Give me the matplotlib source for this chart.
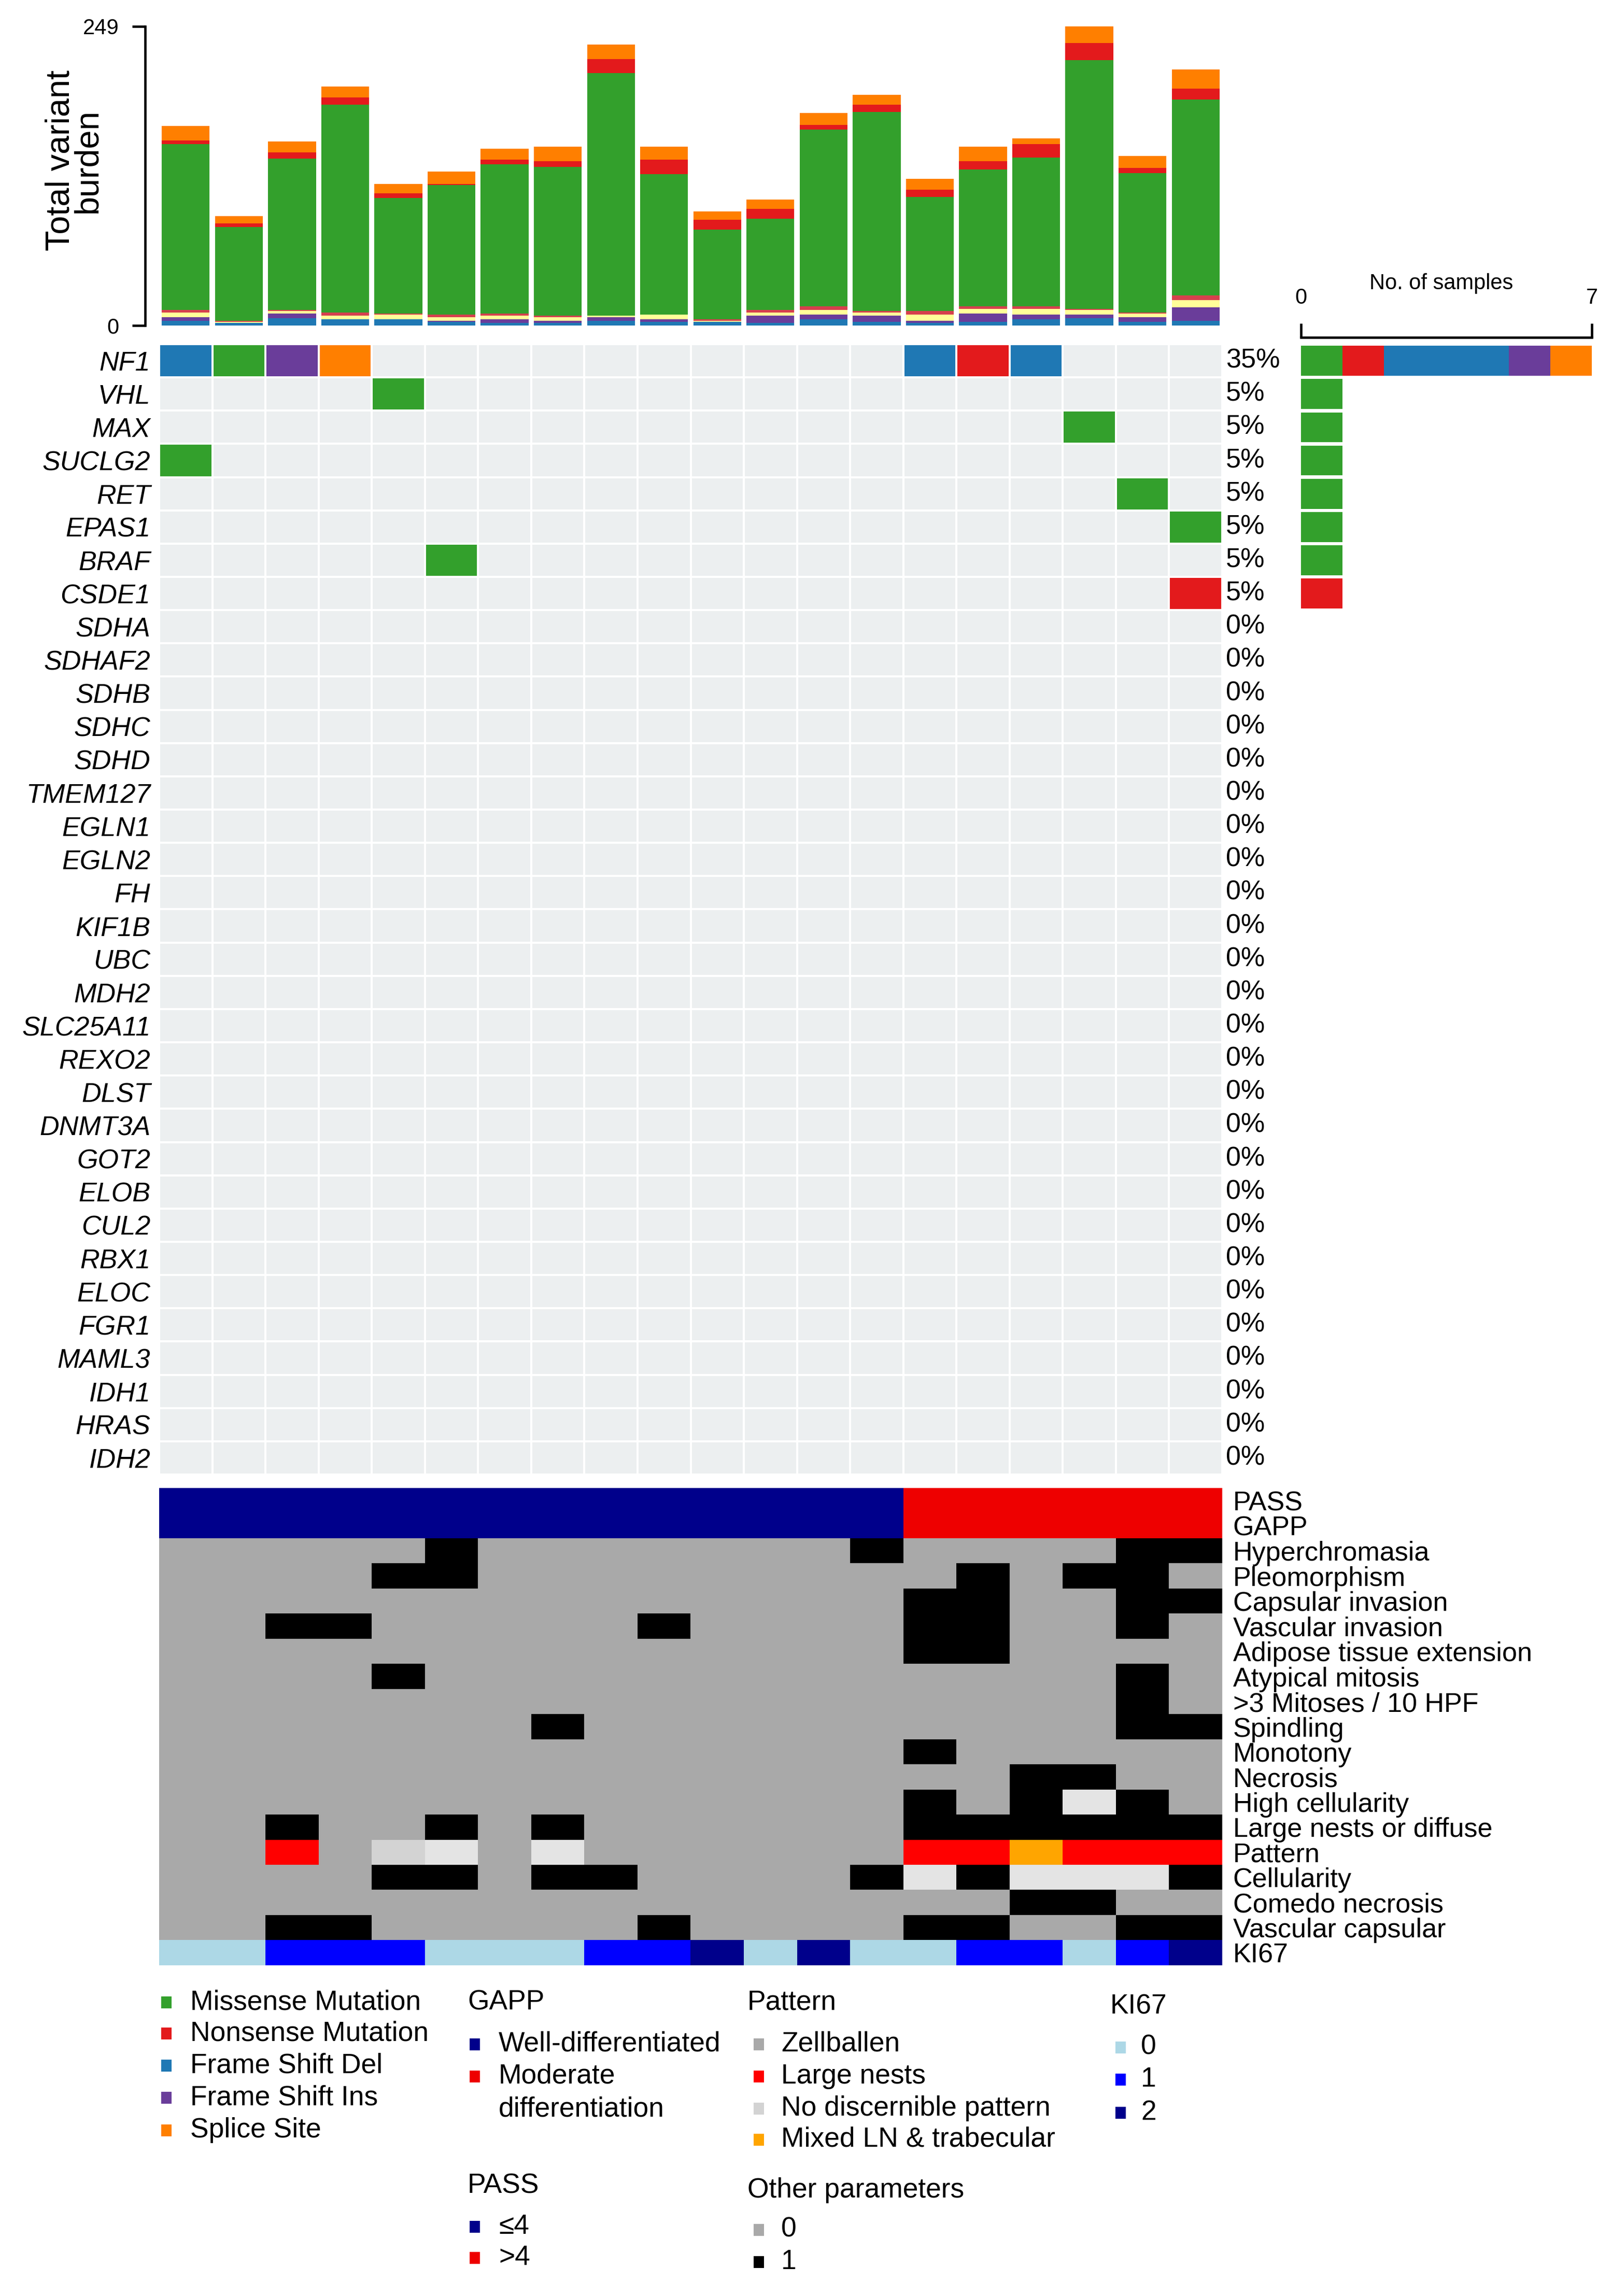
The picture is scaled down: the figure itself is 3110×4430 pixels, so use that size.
import numpy as np
import matplotlib
matplotlib.use("Agg")
import matplotlib.pyplot as plt
from matplotlib.colors import ListedColormap, to_rgb
from matplotlib.patches import Rectangle

plt.rcParams['font.family'] = ['Liberation Sans', 'DejaVu Sans']

W, H, DPI = 3110, 4430, 300
n_samples = 20

# --- total variant burden per sample (stacked, bottom -> top) ---
fsd_burden = [4, 2, 6, 5, 5, 3, 2, 2, 4, 3, 3, 2, 5, 3, 2, 3, 5, 6, 3, 4]
fsi_burden = [3, 0, 4, 0, 0, 1, 3, 2, 3, 2, 0, 6, 4, 5, 2, 7, 4, 3, 4, 11]
ifd_burden = [4, 1, 2, 3, 4, 3, 3, 3, 1, 4, 1, 3, 4, 3, 5, 4, 5, 4, 3, 6]
other_burden = [2, 1, 1, 3, 1, 2, 2, 1, 0, 0, 1, 2, 3, 1, 3, 2, 2, 1, 1, 4]
missense_burden = [138, 78, 126, 173, 96, 108, 124, 124, 202, 117,
                   75, 76, 147, 166, 95, 114, 124, 207, 116, 163]
nonsense_burden = [3, 3, 5, 6, 4, 1, 4, 5, 12, 12, 8, 8, 4, 6, 6, 7, 11, 14, 4, 9]
splice_burden = [12, 6, 9, 9, 8, 10, 9, 12, 12, 11, 7, 8, 10, 8, 9, 12, 5, 14, 10, 16]

# --- oncoplot genes and mutation calls ---
genes = ["NF1", "VHL", "MAX", "SUCLG2", "RET", "EPAS1", "BRAF", "CSDE1", "SDHA",
         "SDHAF2", "SDHB", "SDHC", "SDHD", "TMEM127", "EGLN1", "EGLN2", "FH",
         "KIF1B", "UBC", "MDH2", "SLC25A11", "REXO2", "DLST", "DNMT3A", "GOT2",
         "ELOB", "CUL2", "RBX1", "ELOC", "FGR1", "MAML3", "IDH1", "HRAS", "IDH2"]
mut_gene = ["NF1", "NF1", "NF1", "NF1", "NF1", "NF1", "NF1",
            "VHL", "MAX", "SUCLG2", "RET", "EPAS1", "BRAF", "CSDE1"]
mut_sample = [0, 1, 2, 3, 14, 15, 16, 4, 17, 0, 18, 19, 5, 19]
mut_type = ["Frame Shift Del", "Missense Mutation", "Frame Shift Ins", "Splice Site",
            "Frame Shift Del", "Nonsense Mutation", "Frame Shift Del",
            "Missense Mutation", "Missense Mutation", "Missense Mutation",
            "Missense Mutation", "Missense Mutation", "Missense Mutation",
            "Nonsense Mutation"]

mut_types = ["Missense Mutation", "Nonsense Mutation", "Frame Shift Del",
             "Frame Shift Ins", "Splice Site"]
mut_colors = ["#33A02C", "#E31A1C", "#1F78B4", "#6A3D9A", "#FF7F00"]

# --- clinical / histology annotation ---
ann_rows = ["PASS", "GAPP", "Hyperchromasia", "Pleomorphism", "Capsular invasion",
            "Vascular invasion", "Adipose tissue extension", "Atypical mitosis",
            ">3 Mitoses / 10 HPF", "Spindling", "Monotony", "Necrosis",
            "High cellularity", "Large nests or diffuse", "Pattern", "Cellularity",
            "Comedo necrosis", "Vascular capsular", "KI67"]
pass_vals = ["≤4"] * 14 + [">4"] * 6
gapp_vals = ["Well-differentiated"] * 14 + ["Moderate differentiation"] * 6
hyperchromasia = [0, 0, 0, 0, 0, 1, 0, 0, 0, 0, 0, 0, 0, 1, 0, 0, 0, 0, 1, 1]
pleomorphism = [0, 0, 0, 0, 1, 1, 0, 0, 0, 0, 0, 0, 0, 0, 0, 1, 0, 1, 1, 0]
capsular_inv = [0, 0, 0, 0, 0, 0, 0, 0, 0, 0, 0, 0, 0, 0, 1, 1, 0, 0, 1, 1]
vascular_inv = [0, 0, 1, 1, 0, 0, 0, 0, 0, 1, 0, 0, 0, 0, 1, 1, 0, 0, 1, 0]
adipose_ext = [0, 0, 0, 0, 0, 0, 0, 0, 0, 0, 0, 0, 0, 0, 1, 1, 0, 0, 0, 0]
atypical_mit = [0, 0, 0, 0, 1, 0, 0, 0, 0, 0, 0, 0, 0, 0, 0, 0, 0, 0, 1, 0]
mitoses_3 = [0, 0, 0, 0, 0, 0, 0, 0, 0, 0, 0, 0, 0, 0, 0, 0, 0, 0, 1, 0]
spindling = [0, 0, 0, 0, 0, 0, 0, 1, 0, 0, 0, 0, 0, 0, 0, 0, 0, 0, 1, 1]
monotony = [0, 0, 0, 0, 0, 0, 0, 0, 0, 0, 0, 0, 0, 0, 1, 0, 0, 0, 0, 0]
necrosis = [0, 0, 0, 0, 0, 0, 0, 0, 0, 0, 0, 0, 0, 0, 0, 0, 1, 1, 0, 0]
high_cell = [0, 0, 0, 0, 0, 0, 0, 0, 0, 0, 0, 0, 0, 0, 1, 0, 1, None, 1, 0]
large_nests = [0, 0, 1, 0, 0, 1, 0, 1, 0, 0, 0, 0, 0, 0, 1, 1, 1, 1, 1, 1]
pattern_vals = ["Zellballen", "Zellballen", "Large nests", "Zellballen",
                "No discernible pattern", None, "Zellballen", None, "Zellballen",
                "Zellballen", "Zellballen", "Zellballen", "Zellballen", "Zellballen",
                "Large nests", "Large nests", "Mixed LN & trabecular", "Large nests",
                "Large nests", "Large nests"]
cellularity = [0, 0, 0, 0, 1, 1, 0, 1, 1, 0, 0, 0, 0, 1, None, 1, None, None, None, 1]
comedo_nec = [0, 0, 0, 0, 0, 0, 0, 0, 0, 0, 0, 0, 0, 0, 0, 0, 1, 1, 0, 0]
vascular_caps = [0, 0, 1, 1, 0, 0, 0, 0, 0, 1, 0, 0, 0, 0, 1, 1, 0, 0, 1, 1]
ki67 = [0, 0, 1, 1, 1, 0, 0, 0, 1, 1, 2, 0, 2, 0, 0, 1, 1, 0, 1, 2]

pass_colors = {"≤4": "#00008B", ">4": "#EE0000"}
gapp_colors = {"Well-differentiated": "#00008B", "Moderate differentiation": "#EE0000"}
param_colors = {0: "#A9A9A9", 1: "#000000", None: "#E4E4E4"}
pattern_colors = {"Zellballen": "#A9A9A9", "Large nests": "#FF0000",
                  "No discernible pattern": "#D3D3D3",
                  "Mixed LN & trabecular": "#FFA500", None: "#E4E4E4"}
ki67_colors = {0: "#ADD8E6", 1: "#0000FF", 2: "#00008B"}


def px_rect(x0, y0, x1, y1):
    return [x0 / W, 1 - y1 / H, (x1 - x0) / W, (y1 - y0) / H]


fig = plt.figure(figsize=(W / DPI, H / DPI), dpi=DPI)

# ---------------- top: total variant burden ----------------
ax_bar = fig.add_axes(px_rect(307, 51, 2358, 628))
layers = [fsd_burden, fsi_burden, ifd_burden, other_burden,
          missense_burden, nonsense_burden, splice_burden]
layer_colors = ["#1F78B4", "#6A3D9A", "#FFFF99", "#D6404E",
                "#33A02C", "#E31A1C", "#FF7F00"]
xs = np.arange(n_samples)
bottom = np.zeros(n_samples)
for vals, col in zip(layers, layer_colors):
    vals = np.asarray(vals, dtype=float)
    ax_bar.bar(xs, vals, bottom=bottom, width=0.9, color=col, linewidth=0)
    bottom += vals
top_val = int(bottom.max())
ax_bar.set_xlim(-0.5, n_samples - 0.5)
ax_bar.set_ylim(0, top_val)
ax_bar.set_yticks([0, top_val])
ax_bar.set_xticks([])
for s in ["top", "right", "bottom"]:
    ax_bar.spines[s].set_visible(False)
ax_bar.spines["left"].set_position(("outward", 6.5))
ax_bar.spines["left"].set_linewidth(1.1)
ax_bar.tick_params(axis="y", length=6, width=1.1, pad=6, labelsize=10)
fig.text(143 / W, 1 - 310 / H, "Total variant\nburden", rotation=90,
         ha="center", va="center", fontsize=15.5, linespacing=0.85)

# ---------------- oncoplot matrix ----------------
ax_mat = fig.add_axes(px_rect(307, 664, 2358, 2845))
grid = np.zeros((len(genes), n_samples), dtype=int)
for g, s, t in zip(mut_gene, mut_sample, mut_type):
    grid[genes.index(g), s] = mut_types.index(t) + 1
cmap = ListedColormap(["#ECEFF0"] + mut_colors)
ax_mat.pcolormesh(np.arange(n_samples + 1) - 0.5, np.arange(len(genes) + 1) - 0.5,
                  grid, cmap=cmap, vmin=-0.5, vmax=len(mut_types) + 0.5,
                  edgecolors="white", linewidth=0.5)
ax_mat.set_xlim(-0.5, n_samples - 0.5)
ax_mat.set_ylim(len(genes) - 0.5, -0.5)
ax_mat.set_xticks([])
ax_mat.set_yticks(range(len(genes)))
ax_mat.set_yticklabels(genes, fontstyle="italic", fontsize=12.5)
ax_mat.tick_params(axis="y", length=0, pad=4)
for s in ax_mat.spines.values():
    s.set_visible(False)

mutated = (grid > 0).sum(axis=1)
pct_x = (2365 - 307) / (2358 - 307)
for i, m in enumerate(mutated):
    ax_mat.text(pct_x, i, f"{round(100 * m / n_samples)}%", ha="left", va="center",
                fontsize=12.5, transform=ax_mat.get_yaxis_transform())

# ---------------- side bar: number of samples ----------------
ax_side = fig.add_axes(px_rect(2510, 664, 3071, 2845))
counts = np.zeros((len(genes), len(mut_types)))
for g, t in zip(mut_gene, mut_type):
    counts[genes.index(g), mut_types.index(t)] += 1
left = np.zeros(len(genes))
for k, col in enumerate(mut_colors):
    ax_side.barh(np.arange(len(genes)), counts[:, k], left=left, height=0.9,
                 color=col, linewidth=0)
    left += counts[:, k]
max_n = int(left.max())
ax_side.set_xlim(0, max_n)
ax_side.set_ylim(len(genes) - 0.5, -0.5)
ax_side.set_yticks([])
ax_side.xaxis.tick_top()
ax_side.set_xticks([0, max_n])
ax_side.tick_params(axis="x", length=6.5, width=1.1, pad=7, labelsize=10)
for s in ["bottom", "left", "right"]:
    ax_side.spines[s].set_visible(False)
ax_side.spines["top"].set_position(("outward", 3))
ax_side.spines["top"].set_linewidth(1.1)
fig.text(2781 / W, 1 - 547 / H, "No. of samples", ha="center", va="center", fontsize=10)

# ---------------- annotation heatmap ----------------
ax_ann = fig.add_axes(px_rect(307, 2871, 2358, 3792))
param_rows = [hyperchromasia, pleomorphism, capsular_inv, vascular_inv, adipose_ext,
              atypical_mit, mitoses_3, spindling, monotony, necrosis, high_cell,
              large_nests]
color_rows = [[pass_colors[v] for v in pass_vals], [gapp_colors[v] for v in gapp_vals]]
color_rows += [[param_colors[v] for v in row] for row in param_rows]
color_rows.append([pattern_colors[v] for v in pattern_vals])
color_rows += [[param_colors[v] for v in row] for row in [cellularity, comedo_nec, vascular_caps]]
color_rows.append([ki67_colors[v] for v in ki67])
ann_rgb = np.array([[to_rgb(c) for c in row] for row in color_rows])
ax_ann.imshow(ann_rgb, aspect="auto", interpolation="nearest",
              extent=(-0.5, n_samples - 0.5, len(ann_rows) - 0.5, -0.5))
ax_ann.set_xticks([])
ax_ann.yaxis.tick_right()
ax_ann.set_yticks(range(len(ann_rows)))
ax_ann.set_yticklabels(ann_rows, fontsize=12.5)
ax_ann.tick_params(axis="y", length=0, pad=5)
for s in ax_ann.spines.values():
    s.set_visible(False)

# ---------------- legends ----------------
ax_leg = fig.add_axes(px_rect(0, 3780, W, H))
ax_leg.set_xlim(0, W)
ax_leg.set_ylim(H, 3780)
ax_leg.axis("off")
leg_fs = 12.8


def legend_block(x_mark, x_text, ys, labels, colors, title=None, title_xy=None,
                 title_family=None):
    if title is not None:
        ax_leg.text(title_xy[0], title_xy[1], title, ha="left", va="center",
                    fontsize=leg_fs, family=title_family)
    for y, lab, col in zip(ys, labels, colors):
        if col is not None:
            ax_leg.add_patch(Rectangle((x_mark - 10, y - 11.5), 20, 23, color=col,
                                       linewidth=0))
        ax_leg.text(x_text, y, lab, ha="left", va="center", fontsize=leg_fs)


legend_block(321, 367, [3863, 3923, 3985, 4047, 4110], mut_types, mut_colors)
legend_block(916, 962, [3944, 4006, 4070],
             ["Well-differentiated", "Moderate", "differentiation"],
             [gapp_colors["Well-differentiated"],
              gapp_colors["Moderate differentiation"], None],
             title="GAPP", title_xy=(902, 3863))
pattern_names = ["Zellballen", "Large nests", "No discernible pattern",
                 "Mixed LN & trabecular"]
legend_block(1464, 1507, [3944, 4006, 4068, 4128], pattern_names,
             [pattern_colors[p] for p in pattern_names],
             title="Pattern", title_xy=(1442, 3863))
legend_block(2162, 2201, [3950, 4012, 4076], ["0", "1", "2"],
             [ki67_colors[k] for k in (0, 1, 2)],
             title="KI67", title_xy=(2142, 3871))
legend_block(916, 962, [4296, 4356], ["≤4", ">4"],
             [pass_colors["≤4"], pass_colors[">4"]],
             title="PASS", title_xy=(902, 4217))
legend_block(1464, 1507, [4302, 4364], ["0", "1"],
             [param_colors[0], param_colors[1]],
             title="Other parameters", title_xy=(1442, 4226),
             title_family=["Liberation Sans Narrow", "Liberation Sans"])

fig.savefig("out.png", dpi=DPI, facecolor="white")
